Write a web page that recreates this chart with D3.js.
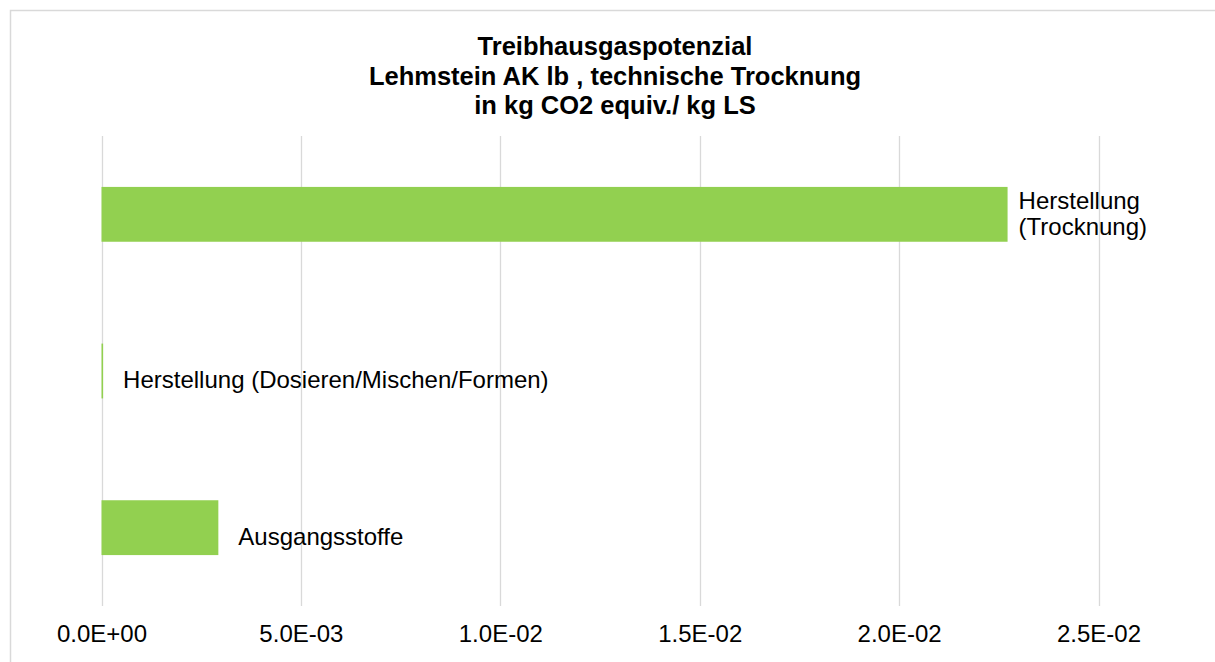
<!DOCTYPE html>
<html lang="de">
    <head>
        <meta charset="utf-8">
        <title>Treibhausgaspotenzial</title>
        <script type="text/javascript" src="https://d3js.org/d3.v7.min.js"></script>
        <style type="text/css">
            body { margin: 0; background: #fff; }
            text { font-family: "Liberation Sans", Arial, sans-serif; fill: #000; }
        </style>
    </head>
    <body>
        <script type="text/javascript">
            // Daten (von oben nach unten)
            var categories = ["Herstellung (Trocknung)", "Herstellung (Dosieren/Mischen/Formen)", "Ausgangsstoffe"];
            var values = [0.02272, 0.00004, 0.00293];
            var tickValues = [0, 0.005, 0.01, 0.015, 0.02, 0.025];
            var tickLabels = ["0.0E+00", "5.0E-03", "1.0E-02", "1.5E-02", "2.0E-02", "2.5E-02"];
            var titleLines = ["Treibhausgaspotenzial", "Lehmstein AK lb , technische Trocknung", "in kg CO2 equiv./ kg LS"];

            var w = 1215;
            var h = 662;

            var svg = d3.select("body")
                .append("svg")
                .attr("width", w)
                .attr("height", h);

            // Rahmen des Diagramms (rechts und unten abgeschnitten)
            svg.append("rect")
                .attr("x", 10.5)
                .attr("y", 10.5)
                .attr("width", 1300)
                .attr("height", 800)
                .attr("fill", "none")
                .attr("stroke", "#d9d9d9")
                .attr("stroke-width", 1.5);

            var x = d3.scaleLinear().domain([0, 0.025]).range([101.5, 1098.5]);
            var y = d3.scaleBand().domain(categories).range([136, 606]).paddingInner(0.65).paddingOuter(0.325);

            // Gitterlinien
            svg.selectAll("line.grid")
                .data(tickValues)
                .enter()
                .append("line")
                .attr("class", "grid")
                .attr("x1", function(d) { return Math.round(x(d)) + 0.5; })
                .attr("x2", function(d) { return Math.round(x(d)) + 0.5; })
                .attr("y1", 136)
                .attr("y2", 606)
                .attr("stroke", "#d9d9d9")
                .attr("stroke-width", 1.3);

            // Achsenbeschriftung
            var axis = d3.axisBottom(x)
                .tickValues(tickValues)
                .tickFormat(function(d, i) { return tickLabels[i]; })
                .tickSize(0)
                .tickPadding(0);

            var gx = svg.append("g")
                .attr("transform", "translate(0,625)")
                .call(axis);
            gx.select(".domain").remove();
            gx.selectAll("text")
                .attr("dy", "0.71em")
                .attr("font-size", "24px")
                .style("font-family", "'Liberation Sans', Arial, sans-serif");

            // Balken
            svg.selectAll("rect.bar")
                .data(values)
                .enter()
                .append("rect")
                .attr("class", "bar")
                .attr("x", x(0))
                .attr("y", function(d, i) { return y(categories[i]); })
                .attr("width", function(d) { return Math.max(1.5, x(d) - x(0)); })
                .attr("height", y.bandwidth())
                .attr("fill", "#92d050");

            // Datenbeschriftungen
            categories.forEach(function(c, i) {
                var cy = y(c) + y.bandwidth() / 2;
                var t = svg.append("text")
                    .attr("font-size", "24px")
                    .attr("x", x(values[i]) + 20)
                    .attr("y", cy + 17)
                    .text(c);
                // zu lang -> umbrechen
                var len = t.node().getComputedTextLength();
                if (x(values[i]) + 20 + len > w - 20) {
                    t.text(null);
                    var lx = x(values[i]) + 11;
                    var parts = [c.slice(0, c.indexOf(" ")), c.slice(c.indexOf(" ") + 1)];
                    t.attr("x", lx).attr("y", cy - 5.5);
                    parts.forEach(function(p, j) {
                        t.append("tspan")
                            .attr("x", lx)
                            .attr("dy", j === 0 ? 0 : 26)
                            .text(p);
                    });
                }
            });

            // Titel
            svg.selectAll("text.title")
                .data(titleLines)
                .enter()
                .append("text")
                .attr("class", "title")
                .attr("x", 615)
                .attr("y", function(d, i) { return 55 + i * 29.5; })
                .attr("text-anchor", "middle")
                .attr("font-size", "25.5px")
                .attr("font-weight", "bold")
                .text(function(d) { return d; });
        </script>
    </body>
</html>
